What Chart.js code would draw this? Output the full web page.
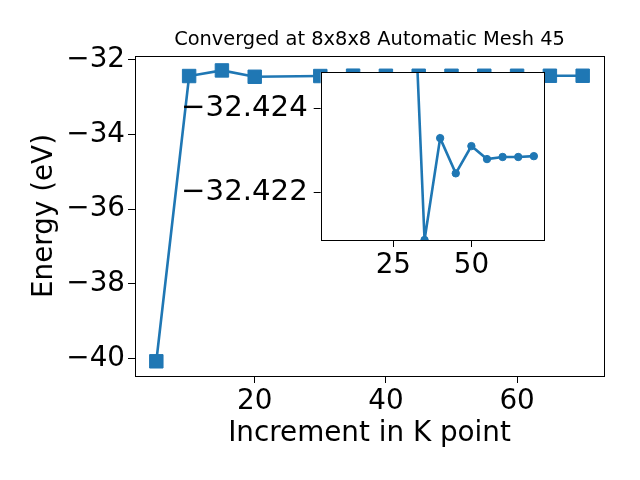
<!DOCTYPE html>
<html>
<head>
<meta charset="utf-8">
<script src="https://cdn.jsdelivr.net/npm/chart.js@4.4.1/dist/chart.umd.min.js"></script>
<style>
  html, body { margin: 0; padding: 0; background: #ffffff; }
  #wrap { position: relative; width: 640px; height: 480px; }
  canvas { position: absolute; left: 0; top: 0; }
  #inset { pointer-events: none; }
</style>
</head>
<body>
<div id="wrap">
  <canvas id="main" width="640" height="480"></canvas>
  <canvas id="inset" width="640" height="480"></canvas>
</div>
<script>
// ---- data ----
const kPoints = [5, 10, 15, 20, 30, 35, 40, 45, 50, 55, 60, 65, 70];
const energies = [-40.08, -32.43, -32.28, -32.45, -32.4298, -32.42086, -32.42329, -32.42245, -32.42310, -32.42279, -32.42284, -32.42284, -32.42286];
const insetKPoints = [30, 35, 40, 45, 50, 55, 60, 65, 70];
const insetEnergies = [-32.4298, -32.42086, -32.42329, -32.42245, -32.42310, -32.42279, -32.42284, -32.42284, -32.42286];
const mainXTicks = [20, 40, 60];
const mainYTicks = [-40, -38, -36, -34, -32];
const insetXTicks = [25, 50];
const insetYTicks = [-32.424, -32.422];
const titleText = 'Converged at 8x8x8 Automatic Mesh 45';
const xLabel = 'Increment in K point';
const yLabel = 'Energy (eV)';

const FONT = 'DejaVu Sans';
const BLUE = '#1f77b4';
const fmt = (v, d) => (v < 0 ? '\u2212' : '') + Math.abs(v).toFixed(d);
const toPts = (xs, ys) => xs.map((x, i) => ({ x: x, y: ys[i] }));

const framePlugin = {
  id: 'frame',
  beforeDatasetsDraw(chart, args, opts) {
    if (opts.fill) {
      const a = chart.chartArea;
      chart.ctx.save();
      chart.ctx.fillStyle = '#ffffff';
      chart.ctx.fillRect(a.left, a.top, a.right - a.left, a.bottom - a.top);
      chart.ctx.restore();
    }
  },
  afterDraw(chart, args, opts) {
    const a = chart.chartArea;
    const ctx = chart.ctx;
    ctx.save();
    ctx.strokeStyle = '#000000';
    ctx.lineWidth = 1;
    ctx.strokeRect(Math.round(a.left) + 0.5, Math.round(a.top) + 0.5,
      Math.round(a.right) - Math.round(a.left), Math.round(a.bottom) - Math.round(a.top));
    if (opts.title) {
      ctx.fillStyle = '#000000';
      ctx.font = '19.4px "DejaVu Sans"';
      ctx.textAlign = 'center';
      ctx.textBaseline = 'middle';
      ctx.fillText(opts.title, (a.left + a.right) / 2, 40);
    }
    ctx.restore();
  }
};

function setTicks(list) {
  return function (scale) { scale.ticks = list.map(v => ({ value: v })); };
}

const tickGrid = { display: true, drawOnChartArea: false, drawTicks: true, tickLength: 7, tickColor: '#000000', tickWidth: 1 };

// ---- main chart ----
new Chart(document.getElementById('main'), {
  type: 'line',
  data: {
    datasets: [{
      data: toPts(kPoints, energies),
      borderColor: BLUE,
      backgroundColor: BLUE,
      borderWidth: 2.6,
      pointStyle: 'rect',
      pointRadius: 9.5,
      pointBorderWidth: 1,
      pointBackgroundColor: BLUE,
      pointBorderColor: BLUE,
      tension: 0,
      clip: 0
    }]
  },
  options: {
    responsive: false,
    animation: false,
    events: [],
    layout: { padding: { left: 0, right: 36, top: 56, bottom: 0 } },
    plugins: {
      legend: { display: false },
      tooltip: { enabled: false },
      title: { display: false },
      frame: { fill: false, title: titleText }
    },
    scales: {
      x: {
        type: 'linear',
        min: 1.75,
        max: 73.25,
        afterBuildTicks: setTicks(mainXTicks),
        afterFit: s => { s.height = 104; },
        grid: tickGrid,
        border: { display: false },
        ticks: {
          color: '#000000',
          font: { family: FONT, size: 27.8 },
          padding: 2,
          maxRotation: 0,
          autoSkip: false,
          callback: v => fmt(v, 0)
        },
        title: {
          display: true,
          text: xLabel,
          color: '#000000',
          font: { family: FONT, size: 27.8 },
          padding: { top: 0, bottom: 30 }
        }
      },
      y: {
        type: 'linear',
        min: -40.474,
        max: -31.893,
        afterBuildTicks: setTicks(mainYTicks),
        afterFit: s => { s.width = 135; },
        grid: tickGrid,
        border: { display: false },
        ticks: {
          color: '#000000',
          font: { family: FONT, size: 27.8 },
          padding: 3,
          autoSkip: false,
          callback: v => fmt(v, 0)
        },
        title: {
          display: true,
          text: yLabel,
          color: '#000000',
          font: { family: FONT, size: 27.8 },
          padding: { top: 28, bottom: 0 }
        }
      }
    }
  },
  plugins: [framePlugin]
});

// ---- inset chart ----
const INSET_YW = 150, INSET_XH = 40;
new Chart(document.getElementById('inset'), {
  type: 'line',
  data: {
    datasets: [{
      data: toPts(insetKPoints, insetEnergies),
      borderColor: BLUE,
      backgroundColor: BLUE,
      borderWidth: 2.6,
      pointStyle: 'circle',
      pointRadius: 3.7,
      pointBorderWidth: 1,
      pointBackgroundColor: BLUE,
      pointBorderColor: BLUE,
      tension: 0,
      clip: 0
    }]
  },
  options: {
    responsive: false,
    animation: false,
    events: [],
    layout: { padding: { left: 320.7 - INSET_YW, right: 640 - 544, top: 72.3, bottom: 480 - 240 - INSET_XH } },
    plugins: {
      legend: { display: false },
      tooltip: { enabled: false },
      title: { display: false },
      frame: { fill: true }
    },
    scales: {
      x: {
        type: 'linear',
        min: 1.75,
        max: 73.25,
        afterBuildTicks: setTicks(insetXTicks),
        afterFit: s => { s.height = INSET_XH; },
        grid: tickGrid,
        border: { display: false },
        ticks: {
          color: '#000000',
          font: { family: FONT, size: 27.8 },
          padding: 2,
          maxRotation: 0,
          autoSkip: false,
          callback: v => fmt(v, 0)
        }
      },
      y: {
        type: 'linear',
        reverse: true,
        min: -32.42486,
        max: -32.42086,
        afterBuildTicks: setTicks(insetYTicks),
        afterFit: s => { s.width = INSET_YW; },
        grid: tickGrid,
        border: { display: false },
        ticks: {
          color: '#000000',
          font: { family: FONT, size: 29.2 },
          padding: 6,
          autoSkip: false,
          callback: v => fmt(v, 3)
        }
      }
    }
  },
  plugins: [framePlugin]
});
</script>
</body>
</html>
